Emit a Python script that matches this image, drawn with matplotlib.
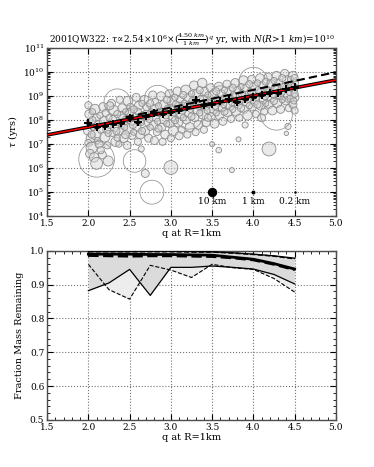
import matplotlib
matplotlib.use("Agg")
import matplotlib.pyplot as plt
import numpy as np
from matplotlib.ticker import MultipleLocator, LogLocator, NullFormatter

plt.rcParams['font.family'] = ['DejaVu Serif']
plt.rcParams['mathtext.fontset'] = 'dejavuserif'
plt.rcParams['xtick.direction'] = 'in'
plt.rcParams['ytick.direction'] = 'in'
plt.rcParams['xtick.top'] = True
plt.rcParams['ytick.right'] = True

# --- top panel: individual runs (q at R=1km, log10 tau, object radius km)
q_obj = [
    2.00, 2.01, 2.02, 1.99, 2.03, 2.00, 2.04, 2.02,
    2.08, 2.10, 2.12, 2.09, 2.11, 2.07, 2.10, 2.10,
    2.18, 2.21, 2.19, 2.22, 2.20, 2.23, 2.24, 2.17,
    2.28, 2.31, 2.30, 2.32, 2.29, 2.33, 2.35,
    2.38, 2.41, 2.40, 2.42, 2.39, 2.43, 2.37,
    2.48, 2.51, 2.50, 2.52, 2.49, 2.53, 2.47, 2.56,
    2.58, 2.61, 2.60, 2.62, 2.59, 2.63, 2.60, 2.64,
    2.68, 2.71, 2.70, 2.72, 2.69, 2.73, 2.69, 2.77,
    2.78, 2.81, 2.80, 2.82, 2.79, 2.83, 2.80, 2.84,
    2.88, 2.91, 2.90, 2.92, 2.89, 2.93, 2.90,
    2.98, 3.01, 3.00, 3.02, 2.99, 3.03, 3.00, 3.00,
    3.08, 3.11, 3.10, 3.12, 3.09, 3.13, 3.10,
    3.18, 3.21, 3.20, 3.22, 3.19, 3.23, 3.20, 3.22,
    3.28, 3.31, 3.30, 3.32, 3.29, 3.33, 3.30,
    3.38, 3.41, 3.40, 3.42, 3.39, 3.43, 3.40,
    3.48, 3.51, 3.50, 3.52, 3.49, 3.53, 3.50, 3.58,
    3.58, 3.61, 3.60, 3.62, 3.59, 3.63, 3.60,
    3.68, 3.71, 3.70, 3.72, 3.69, 3.73, 3.74,
    3.78, 3.81, 3.80, 3.82, 3.79, 3.83, 3.82,
    3.88, 3.91, 3.90, 3.92, 3.89, 3.93, 3.90,
    3.98, 4.01, 4.00, 4.02, 3.99, 4.03, 4.00,
    4.08, 4.11, 4.10, 4.12, 4.09, 4.13, 4.10,
    4.18, 4.21, 4.20, 4.22, 4.19, 4.23, 4.19, 4.28,
    4.28, 4.31, 4.30, 4.32, 4.29, 4.33,
    4.38, 4.41, 4.40, 4.42, 4.39, 4.43, 4.42, 4.40,
    4.48, 4.50, 4.49, 4.50, 4.48, 4.50,
]
logtau_obj = [
    8.62, 8.25, 7.95, 7.55, 7.25, 7.05, 6.85, 6.60,
    8.45, 8.10, 7.85, 7.40, 7.15, 6.45, 6.20, 6.37,
    8.55, 8.30, 7.95, 7.60, 7.30, 6.95, 6.30, 6.55,
    8.70, 8.40, 8.05, 7.70, 7.45, 7.10, 8.75,
    8.85, 8.50, 8.20, 7.85, 7.55, 7.25, 7.00,
    8.80, 8.55, 8.30, 7.95, 7.65, 7.35, 6.95, 6.30,
    8.95, 8.60, 8.35, 8.00, 7.70, 7.40, 7.10, 6.80,
    8.85, 8.55, 8.20, 7.90, 7.55, 7.25, 5.78, 5.00,
    9.05, 8.75, 8.45, 8.10, 7.80, 7.50, 7.15, 8.90,
    9.00, 8.65, 8.35, 8.05, 7.70, 7.40, 7.10,
    9.10, 8.80, 8.50, 8.15, 7.85, 7.55, 7.25, 6.03,
    9.20, 8.85, 8.55, 8.25, 7.90, 7.60, 7.35,
    9.25, 8.95, 8.60, 8.30, 8.00, 7.70, 7.40, 8.20,
    9.45, 9.10, 8.75, 8.45, 8.10, 7.80, 7.50,
    9.55, 9.20, 8.85, 8.55, 8.25, 7.90, 7.60,
    9.35, 9.05, 8.75, 8.45, 8.15, 7.85, 7.00, 6.75,
    9.40, 9.10, 8.80, 8.50, 8.20, 7.95, 8.90,
    9.50, 9.20, 8.90, 8.60, 8.30, 8.05, 5.92,
    9.55, 9.25, 8.95, 8.65, 8.35, 8.10, 7.20,
    9.65, 9.35, 9.05, 8.75, 8.45, 8.20, 7.80,
    9.70, 9.40, 9.10, 8.80, 8.55, 8.25, 9.60,
    9.75, 9.45, 9.15, 8.85, 8.60, 8.35, 8.10,
    9.80, 9.50, 9.20, 8.95, 8.65, 8.40, 6.80, 8.25,
    9.85, 9.55, 9.25, 9.00, 8.70, 8.45,
    9.95, 9.65, 9.35, 9.05, 8.80, 8.50, 7.74, 7.45,
    9.85, 9.55, 9.25, 8.95, 8.65, 8.40,
]
R_obj = [
    8, 12, 6, 10, 14, 8, 20, 12,
    16, 10, 8, 18, 6, 14, 22, 200,
    12, 8, 14, 10, 16, 8, 16, 10,
    10, 16, 8, 12, 6, 14, 110,
    8, 12, 10, 16, 8, 12, 6,
    14, 8, 12, 10, 16, 8, 10, 80,
    10, 12, 8, 14, 10, 12, 8, 6,
    12, 10, 16, 8, 12, 10, 10, 90,
    10, 8, 14, 10, 12, 8, 10, 110,
    12, 10, 8, 16, 10, 12, 8,
    10, 14, 8, 12, 10, 16, 8, 30,
    12, 8, 14, 10, 12, 8, 10,
    16, 10, 8, 12, 10, 14, 8, 120,
    12, 10, 8, 14, 10, 12, 8,
    14, 10, 12, 8, 16, 10, 8,
    10, 12, 8, 14, 10, 12, 4, 5,
    12, 10, 14, 8, 12, 10, 100,
    10, 14, 8, 12, 10, 8, 4,
    12, 8, 16, 10, 12, 8, 4,
    14, 10, 8, 12, 10, 14, 6,
    10, 12, 8, 14, 10, 8, 130,
    12, 8, 14, 10, 12, 8, 10,
    10, 12, 8, 14, 10, 12, 30, 160,
    12, 10, 14, 8, 12, 10,
    10, 14, 8, 12, 10, 8, 6, 3,
    12, 10, 8, 12, 10, 8,
]
# second batch of runs, filling the core of the cloud
q_obj_b = [
    2.05, 2.06, 2.04, 2.05, 2.14, 2.15, 2.13, 2.15,
    2.25, 2.26, 2.24, 2.26, 2.35, 2.36, 2.34, 2.35,
    2.45, 2.46, 2.44, 2.45, 2.55, 2.56, 2.54, 2.55,
    2.65, 2.66, 2.64, 2.65, 2.75, 2.76, 2.74, 2.75,
    2.85, 2.86, 2.84, 2.85, 2.95, 2.96, 2.94, 2.95,
    3.05, 3.06, 3.04, 3.05, 3.15, 3.16, 3.14, 3.15,
    3.25, 3.26, 3.24, 3.25, 3.35, 3.36, 3.34, 3.35,
    3.45, 3.46, 3.44, 3.45, 3.55, 3.56, 3.54, 3.55,
    3.65, 3.66, 3.64, 3.65, 3.75, 3.76, 3.74, 3.75,
    3.85, 3.86, 3.84, 3.85, 3.95, 3.96, 3.94, 3.95,
    4.05, 4.06, 4.04, 4.05, 4.15, 4.16, 4.14, 4.15,
    4.25, 4.26, 4.24, 4.25, 4.35, 4.36, 4.34, 4.35,
    4.45, 4.46, 4.44, 4.45, 4.50, 4.49, 4.50, 4.49,
]
logtau_obj_b = [
    8.00, 7.70, 7.40, 8.35, 8.20, 7.60, 7.00, 6.75,
    8.10, 7.80, 7.45, 8.60, 8.25, 7.90, 7.55, 7.25,
    8.35, 8.05, 7.70, 7.40, 8.45, 8.15, 7.80, 7.50,
    8.70, 8.20, 7.90, 7.55, 8.70, 8.35, 8.05, 7.70,
    8.60, 8.30, 7.95, 7.65, 8.85, 8.50, 8.20, 7.85,
    8.95, 8.65, 8.30, 8.00, 9.05, 8.70, 8.40, 8.10,
    9.10, 8.80, 8.45, 8.15, 9.25, 8.90, 8.60, 8.30,
    9.05, 8.70, 8.40, 8.10, 9.20, 8.90, 8.60, 8.30,
    9.25, 8.95, 8.65, 8.35, 9.35, 9.05, 8.75, 8.45,
    9.40, 9.10, 8.80, 8.50, 9.50, 9.20, 8.90, 8.60,
    9.55, 9.25, 8.95, 8.65, 9.60, 9.30, 9.00, 8.70,
    9.65, 9.35, 9.05, 8.80, 9.75, 9.40, 9.15, 8.85,
    9.70, 9.45, 9.15, 8.90, 9.75, 9.40, 9.10, 8.80,
]
R_obj_b = [
    8, 6, 8, 6, 6, 8, 10, 8,
    6, 8, 6, 10, 8, 6, 8, 6,
    6, 8, 6, 10, 8, 6, 8, 6,
    6, 8, 6, 8, 8, 6, 8, 6,
    6, 8, 6, 8, 8, 6, 8, 6,
    6, 8, 6, 8, 8, 6, 8, 6,
    6, 8, 6, 8, 8, 6, 8, 6,
    6, 8, 6, 8, 8, 6, 8, 6,
    6, 8, 6, 8, 8, 6, 8, 6,
    6, 8, 6, 8, 8, 6, 8, 6,
    6, 8, 6, 8, 8, 6, 8, 6,
    6, 8, 6, 8, 8, 6, 8, 6,
    6, 8, 6, 8, 8, 6, 8, 6,
]

# binned medians (black crosses)
q_bin = [2.0, 2.1, 2.2, 2.3, 2.4, 2.5, 2.6, 2.7, 2.8, 2.9, 3.0, 3.1, 3.2,
         3.3, 3.4, 3.5, 3.6, 3.7, 3.8, 3.9, 4.0, 4.1, 4.2, 4.3, 4.4, 4.5]
logtau_bin = [7.87, 7.70, 7.76, 7.83, 7.89, 8.10, 7.93, 8.18, 8.28, 8.27,
              8.35, 8.43, 8.55, 8.82, 8.62, 8.68, 8.80, 8.90, 8.75, 8.90,
              8.96, 9.05, 9.13, 9.11, 9.30, 9.38]

# fit: tau = A * (4.50)^q
fit_A = 2.54e6
fit_base = 4.50
# steeper fit (dashed), end points
q_dash = [2.45, 5.0]
tau_dash = [1.32e8, 1.0e10]

# size legend
legend_R = [10, 1, 0.2]
legend_q = [3.5, 4.0, 4.5]
legend_lbl = ['10 km', '1 km', '0.2 km']

# --- bottom panel: fraction of mass remaining
q_frac = [2.0, 2.25, 2.5, 2.75, 3.0, 3.25, 3.5, 3.75, 4.0, 4.25, 4.5]
solid_hi = [0.999, 0.999, 0.999, 0.999, 0.999, 0.998, 0.997, 0.994, 0.990, 0.985, 0.978]
solid_med = [0.990, 0.990, 0.990, 0.989, 0.989, 0.988, 0.987, 0.981, 0.975, 0.962, 0.946]
solid_lo = [0.882, 0.905, 0.945, 0.868, 0.951, 0.951, 0.955, 0.951, 0.946, 0.930, 0.902]
dash_hi = [0.997, 0.997, 0.997, 0.997, 0.997, 0.996, 0.996, 0.993, 0.989, 0.984, 0.976]
dash_med = [0.986, 0.985, 0.984, 0.985, 0.985, 0.984, 0.983, 0.979, 0.973, 0.960, 0.944]
dash_lo = [0.960, 0.885, 0.857, 0.957, 0.943, 0.921, 0.960, 0.950, 0.945, 0.918, 0.878]

fig = plt.figure(figsize=(3.74, 4.67), dpi=100)
ax1 = fig.add_axes([0.126, 0.537, 0.772, 0.360])
ax2 = fig.add_axes([0.126, 0.101, 0.772, 0.362])

q_all = np.array(q_obj + q_obj_b)
tau_all = 10 ** np.array(logtau_obj + logtau_obj_b)
R_all = np.array(R_obj + R_obj_b, dtype=float)
size = 3.3 * R_all
big = R_all > 60

ax1.scatter(q_all[~big], tau_all[~big], s=size[~big], facecolor=(0.84, 0.84, 0.84, 0.5),
            edgecolor='0.55', linewidths=0.6, zorder=2)
ax1.scatter(q_all[big], tau_all[big], s=size[big], facecolor='none',
            edgecolor='0.6', linewidths=0.6, zorder=2)

qq = np.array([1.5, 5.0])
ax1.plot(qq, fit_A * fit_base ** qq, color='k', lw=2.6, zorder=3)
ax1.plot(qq, fit_A * fit_base ** qq, color='r', lw=1.1, zorder=4)
ax1.plot(q_dash, tau_dash, color='k', lw=1.5, ls='--', dashes=(4, 2), zorder=4)

ax1.errorbar(q_bin, 10 ** np.array(logtau_bin), xerr=0.03, fmt='k+', ms=6, mew=1.5,
             elinewidth=2, capsize=0, zorder=5)

for R, q, lbl in zip(legend_R, legend_q, legend_lbl):
    ax1.scatter([q], [1e5], s=3.3 * R, color='k', zorder=5)
    ax1.text(q, 10 ** 4.62, lbl, ha='center', va='center', fontsize=6.5)

ax1.set_yscale('log')
ax1.set_xlim(1.5, 5.0)
ax1.set_ylim(1e4, 1e11)
ax1.xaxis.set_major_locator(MultipleLocator(0.5))
ax1.yaxis.set_major_locator(LogLocator(base=10, numticks=10))
ax1.yaxis.set_minor_locator(LogLocator(base=10, subs=np.arange(2, 10), numticks=10))
ax1.yaxis.set_minor_formatter(NullFormatter())
ax1.grid(True, which='major', ls=':', color='0.45', lw=0.8)
ax1.set_xlabel('q at R=1km', fontsize=7, labelpad=1)
ax1.set_ylabel(r'$\tau$ (yrs)', fontsize=7, labelpad=2)
ax1.set_title(r'2001QW322: $\tau\!\propto\!2.54{\times}10^{6}{\times}(\frac{4.50\ km}{1\ km})^{q}$ yr, '
              r'with $N(R\!>\!1\ km)\!=\!10^{10}$', fontsize=6.5, pad=4)

ax2.fill_between(q_frac, dash_lo, dash_hi, color='0.93', lw=0, zorder=1)
ax2.fill_between(q_frac, solid_lo, solid_hi, color='0.86', lw=0, zorder=2)
ax2.plot(q_frac, solid_hi, color='k', lw=1.0, zorder=3)
ax2.plot(q_frac, solid_med, color='k', lw=2.0, zorder=3)
ax2.plot(q_frac, solid_lo, color='k', lw=0.9, zorder=3)
ax2.plot(q_frac, dash_hi, color='k', lw=1.0, ls='--', zorder=3)
ax2.plot(q_frac, dash_med, color='k', lw=2.0, ls='--', zorder=3)
ax2.plot(q_frac, dash_lo, color='k', lw=0.8, ls='--', zorder=3)

ax2.set_xlim(1.5, 5.0)
ax2.set_ylim(0.5, 1.0)
ax2.xaxis.set_major_locator(MultipleLocator(0.5))
ax2.xaxis.set_minor_locator(MultipleLocator(0.1))
ax2.yaxis.set_major_locator(MultipleLocator(0.1))
ax2.yaxis.set_minor_locator(MultipleLocator(0.02))
ax2.grid(True, which='major', ls=':', color='0.45', lw=0.8)
ax2.set_xlabel('q at R=1km', fontsize=7, labelpad=1)
ax2.set_ylabel('Fraction Mass Remaining', fontsize=7, labelpad=4)

for ax in (ax1, ax2):
    ax.set_axisbelow(True)
    ax.tick_params(labelsize=6.5, length=4, width=0.8, pad=2)
    ax.tick_params(which='minor', length=2, width=0.6)
    for sp in ax.spines.values():
        sp.set_linewidth(1.0)
        sp.set_color('0.3')

fig.savefig('out.png', dpi=100)
